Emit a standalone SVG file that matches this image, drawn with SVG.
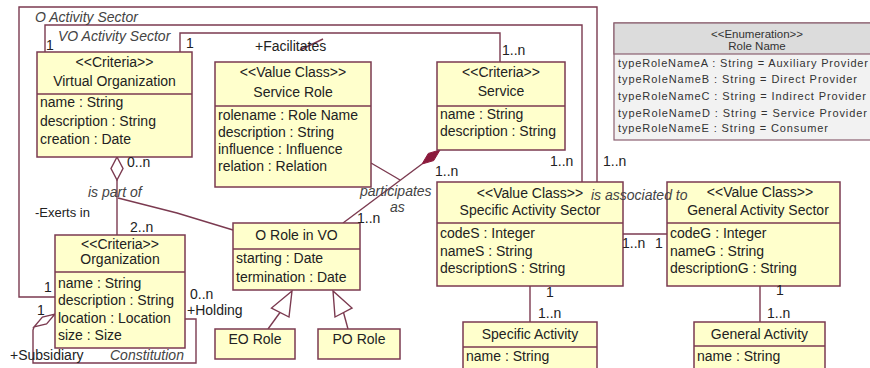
<svg xmlns="http://www.w3.org/2000/svg" width="870" height="368" viewBox="0 0 870 368">
<style>
.box{fill:#ffffcc;stroke:#7b3a50;stroke-width:1.5}
.div{stroke:#7b3a50;stroke-width:1.5}
.enh{fill:#dcdcdc;stroke:#8b6070;stroke-width:1.2}
.enb{fill:#f2f2f2;stroke:#8b6070;stroke-width:1.2}
.ln{fill:none;stroke:#7b3a50;stroke-width:1.4}
text{font-family:"Liberation Sans",Arial,sans-serif;font-size:14px;fill:#222}
.c{text-anchor:middle}
.it{font-style:italic;fill:#444}
.en{font-size:11px;fill:#333}
.eh{font-size:11.5px;fill:#333}
</style>
<rect width="870" height="368" fill="#ffffff"/>
<g id="connectors">
  <polyline class="ln" points="55,297 19,297 19,7 597,7 597,182"/>
  <polyline class="ln" points="45,52 45,25 582,25 582,182"/>
  <polyline class="ln" points="180,52 180,33 500,33 500,62"/>
  <line class="ln" x1="300" y1="50" x2="323" y2="39"/>
  <polygon points="117,157 123,168.5 117,180 111,168.5" fill="#ffffff" stroke="#7b3a50" stroke-width="1.4"/>
  <line class="ln" x1="117" y1="180" x2="117" y2="235"/>
  <polyline class="ln" points="118,198 177,213 233,230"/>
  <polygon points="440,150 433.7,160.6 422,164 428.3,153.4" fill="#8b1a3c" stroke="#8b1a3c" stroke-width="1"/>
  <line class="ln" x1="422" y1="164" x2="343" y2="223"/>
  <polyline class="ln" points="371,163 395,177 400,180"/>
  <line class="ln" x1="280" y1="312.5" x2="268" y2="329"/>
  <polygon points="292,291 271.5,308 289,317" fill="#ffffff" stroke="#7b3a50" stroke-width="1.4"/>
  <line class="ln" x1="343.5" y1="312.5" x2="348" y2="329"/>
  <polygon points="333,291 335,317 352,308" fill="#ffffff" stroke="#7b3a50" stroke-width="1.4"/>
  <polygon points="55,314 46.6,323.9 34,327 42.4,317.1" fill="#ffffff" stroke="#7b3a50" stroke-width="1.3"/>
  <polyline class="ln" points="34,327 33,330 33,363 196,363 196,319 185,319"/>
  <line class="ln" x1="623" y1="234" x2="667" y2="234"/>
  <line class="ln" x1="530" y1="286" x2="530" y2="322"/>
  <line class="ln" x1="760" y1="286" x2="760" y2="322"/>
</g>
<g id="virtual-organization">
  <rect class="box" x="37" y="52" width="155" height="105"/>
  <line class="div" x1="37" y1="94" x2="192" y2="94"/>
  <text class="c" x="114.5" y="67">&lt;&lt;Criteria&gt;&gt;</text>
  <text class="c" x="114.5" y="86">Virtual Organization</text>
  <text x="40" y="107">name : String</text>
  <text x="40" y="126">description : String</text>
  <text x="40" y="144">creation : Date</text>
</g>
<g id="service-role">
  <rect class="box" x="215" y="62" width="156" height="125"/>
  <line class="div" x1="215" y1="106" x2="371" y2="106"/>
  <text class="c" x="293" y="77">&lt;&lt;Value Class&gt;&gt;</text>
  <text class="c" x="293" y="97">Service Role</text>
  <text x="218" y="120">rolename : Role Name</text>
  <text x="218" y="137">description : String</text>
  <text x="218" y="154">influence : Influence</text>
  <text x="218" y="171">relation : Relation</text>
</g>
<g id="service">
  <rect class="box" x="437" y="62" width="128" height="88"/>
  <line class="div" x1="437" y1="106" x2="565" y2="106"/>
  <text class="c" x="501" y="77">&lt;&lt;Criteria&gt;&gt;</text>
  <text class="c" x="501" y="96">Service</text>
  <text x="440" y="119">name : String</text>
  <text x="440" y="136">description : String</text>
</g>
<g id="role-name">
  <rect class="enb" x="614" y="23" width="262" height="117"/>
  <rect class="enh" x="614" y="23" width="262" height="31"/>
  <text class="c eh" x="757" y="38">&lt;&lt;Enumeration&gt;&gt;</text>
  <text class="c eh" x="757" y="50">Role Name</text>
  <text class="en" x="618" y="67" textLength="250" lengthAdjust="spacing">typeRoleNameA : String = Auxiliary Provider</text>
  <text class="en" x="618" y="83" textLength="239" lengthAdjust="spacing">typeRoleNameB : String = Direct Provider</text>
  <text class="en" x="618" y="100" textLength="248" lengthAdjust="spacing">typeRoleNameC : String = Indirect Provider</text>
  <text class="en" x="618" y="117" textLength="249" lengthAdjust="spacing">typeRoleNameD : String = Service Provider</text>
  <text class="en" x="618" y="132" textLength="210" lengthAdjust="spacing">typeRoleNameE : String = Consumer</text>
</g>
<g id="organization">
  <rect class="box" x="55" y="235" width="130" height="113"/>
  <line class="div" x1="55" y1="272" x2="185" y2="272"/>
  <text class="c" x="120" y="249">&lt;&lt;Criteria&gt;&gt;</text>
  <text class="c" x="120" y="264">Organization</text>
  <text x="58" y="288">name : String</text>
  <text x="58" y="305">description : String</text>
  <text x="58" y="323">location : Location</text>
  <text x="58" y="340">size : Size</text>
</g>
<g id="o-role-in-vo">
  <rect class="box" x="233" y="223" width="127" height="67"/>
  <line class="div" x1="233" y1="249" x2="360" y2="249"/>
  <text class="c" x="296.5" y="240">O Role in VO</text>
  <text x="236" y="263">starting : Date</text>
  <text x="236" y="282">termination : Date</text>
</g>
<g id="eo-role">
  <rect class="box" x="215" y="329" width="80" height="30"/>
  <text class="c" x="255" y="344">EO Role</text>
</g>
<g id="po-role">
  <rect class="box" x="318" y="329" width="82" height="30"/>
  <text class="c" x="359" y="344">PO Role</text>
</g>
<g id="specific-activity-sector">
  <rect class="box" x="437" y="182" width="186" height="104"/>
  <line class="div" x1="437" y1="223" x2="623" y2="223"/>
  <text class="c" x="530" y="198">&lt;&lt;Value Class&gt;&gt;</text>
  <text class="c" x="530" y="215">Specific Activity Sector</text>
  <text x="440" y="238">codeS : Integer</text>
  <text x="440" y="256">nameS : String</text>
  <text x="440" y="273">descriptionS : String</text>
</g>
<g id="general-activity-sector">
  <rect class="box" x="667" y="182" width="173" height="104"/>
  <line class="div" x1="667" y1="223" x2="840" y2="223"/>
  <text class="c" x="760" y="197">&lt;&lt;Value Class&gt;&gt;</text>
  <text class="c" x="758" y="215">General Activity Sector</text>
  <text x="670" y="238">codeG : Integer</text>
  <text x="670" y="256">nameG : String</text>
  <text x="670" y="273">descriptionG : String</text>
</g>
<g id="specific-activity">
  <rect class="box" x="463" y="322" width="134" height="50"/>
  <line class="div" x1="463" y1="347" x2="597" y2="347"/>
  <text class="c" x="530" y="339">Specific Activity</text>
  <text x="466" y="361">name : String</text>
</g>
<g id="general-activity">
  <rect class="box" x="694" y="322" width="131" height="50"/>
  <line class="div" x1="694" y1="346" x2="825" y2="346"/>
  <text class="c" x="759.5" y="339">General Activity</text>
  <text x="697" y="361">name : String</text>
</g>
<g id="labels">
  <text class="it" x="35" y="22">O Activity Sector</text>
  <text class="it" x="58" y="41">VO Activity Sector</text>
  <text x="46" y="50">1</text>
  <text x="186" y="48">1</text>
  <text x="255" y="51">+Facilitates</text>
  <text x="502" y="55">1..n</text>
  <text x="127" y="167">0..n</text>
  <text class="it" x="88" y="197">is part of</text>
  <text x="35" y="217" style="font-size:13px">-Exerts in</text>
  <text x="130" y="232">2..n</text>
  <text x="44" y="292">1</text>
  <text x="37" y="315">1</text>
  <text x="190" y="299">0..n</text>
  <text x="187" y="315">+Holding</text>
  <text x="10" y="360">+Subsidiary</text>
  <text class="it" x="110" y="360">Constitution</text>
  <text class="it" x="360" y="196">participates</text>
  <text class="it" x="390" y="212">as</text>
  <text x="357" y="223">1..n</text>
  <text x="435" y="176">1..n</text>
  <text x="550" y="166">1..n</text>
  <text x="603" y="166">1..n</text>
  <text class="it" x="591" y="200">is associated to</text>
  <text x="622" y="248">1..n</text>
  <text x="655" y="248">1</text>
  <text x="546" y="297">1</text>
  <text x="538" y="318">1..n</text>
  <text x="776" y="295">1</text>
  <text x="767" y="318">1..n</text>
</g>
</svg>
